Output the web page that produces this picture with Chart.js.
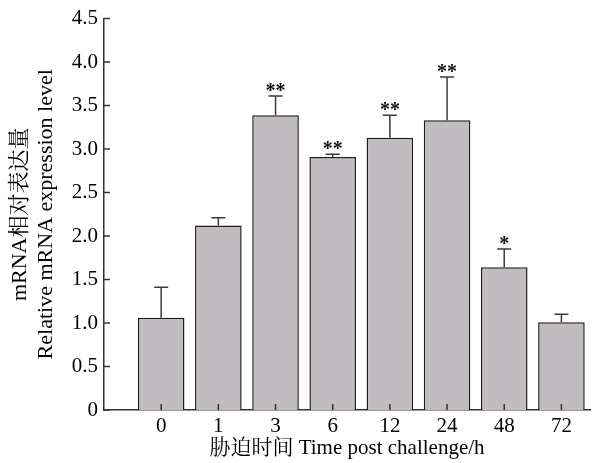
<!DOCTYPE html>
<html>
<head>
<meta charset="utf-8">
<script src="https://cdn.jsdelivr.net/npm/chart.js@4"></script>
<style>
  html, body { margin: 0; padding: 0; background: #fff; }
  #wrap { width: 593px; height: 463px; }
</style>
</head>
<body>
<div id="wrap"><canvas id="chart"></canvas></div>
<script>
const timePoints = ['0', '1', '3', '6', '12', '24', '48', '72'];
const expression = [1.06, 2.12, 3.39, 2.91, 3.13, 3.33, 1.64, 1.01];
const errorUpper = [0.35, 0.09, 0.22, 0.03, 0.26, 0.50, 0.21, 0.09];
const marks = ['', '', '**', '**', '**', '**', '*', ''];
const yTicks = [0, 0.5, 1.0, 1.5, 2.0, 2.5, 3.0, 3.5, 4.0, 4.5];

const FONT = '"Liberation Serif", "Times New Roman", "Noto Serif CJK SC", "Noto Sans CJK SC", serif';
const AXIS = '#333';

// error bars, significance stars and inward tick marks
const extras = {
  id: 'extras',
  afterDatasetsDraw(chart) {
    const ctx = chart.ctx;
    const x = chart.scales.x, y = chart.scales.y;
    ctx.save();
    ctx.strokeStyle = '#3a3a3a';
    ctx.lineWidth = 1.5;
    expression.forEach((v, i) => {
      const px = x.getPixelForValue(i);
      const top = y.getPixelForValue(v);
      const cap = y.getPixelForValue(v + errorUpper[i]);
      ctx.beginPath();
      ctx.moveTo(px, top);
      ctx.lineTo(px, cap);
      ctx.moveTo(px - 7, cap);
      ctx.lineTo(px + 7, cap);
      ctx.stroke();
      if (marks[i]) {
        ctx.fillStyle = '#111';
        ctx.font = 'bold 20px ' + FONT;
        ctx.textAlign = 'center';
        ctx.textBaseline = 'alphabetic';
        ctx.fillText(marks[i], px, cap + 1);
      }
    });
    ctx.strokeStyle = AXIS;
    ctx.lineWidth = 1.5;
    const left = chart.chartArea.left, bottom = chart.chartArea.bottom;
    ctx.beginPath();
    yTicks.forEach(t => {
      const py = y.getPixelForValue(t);
      ctx.moveTo(left, py);
      ctx.lineTo(left + 6, py);
    });
    timePoints.forEach((c, i) => {
      const px = x.getPixelForValue(i);
      ctx.moveTo(px, bottom);
      ctx.lineTo(px, bottom - 6);
    });
    ctx.stroke();
    ctx.restore();
  }
};

new Chart(document.getElementById('chart'), {
  type: 'bar',
  data: {
    datasets: [{
      data: expression.map((v, i) => ({ x: i, y: v })),
      backgroundColor: '#c1bcbf',
      borderColor: '#1e1e1e',
      borderWidth: 1.5,
      categoryPercentage: 1,
      barPercentage: 0.815
    }]
  },
  options: {
    responsive: true,
    maintainAspectRatio: false,
    animation: false,
    layout: { padding: { top: 15, right: 3, left: 0, bottom: 0 } },
    plugins: { legend: { display: false }, tooltip: { enabled: false } },
    scales: {
      x: {
        type: 'linear',
        offset: false,
        min: -1,
        max: 7.5,
        afterBuildTicks: (scale) => { scale.ticks = timePoints.map((c, i) => ({ value: i })); },
        afterFit: (scale) => { scale.height = 53; },
        grid: { display: false, drawTicks: false },
        border: { display: true, color: AXIS, width: 1.5 },
        ticks: {
          color: '#000',
          padding: 4,
          maxRotation: 0,
          font: { family: FONT, size: 21 },
          callback: (v) => timePoints[v]
        },
        title: {
          display: true,
          text: '胁迫时间 Time post challenge/h',
          color: '#000',
          font: { family: FONT, size: 21 },
          padding: { top: 0, bottom: 2 }
        }
      },
      y: {
        min: 0,
        max: 4.5,
        afterBuildTicks: (scale) => { scale.ticks = yTicks.map(v => ({ value: v })); },
        afterFit: (scale) => { scale.width = 104; },
        grid: { display: false, drawTicks: false },
        border: { display: true, color: AXIS, width: 1.5 },
        ticks: {
          color: '#000',
          padding: 6,
          font: { family: FONT, size: 21 },
          callback: (v) => v === 0 ? '0' : v.toFixed(1)
        },
        title: {
          display: true,
          text: ['mRNA相对表达量', 'Relative mRNA expression level'],
          color: '#000',
          font: { family: FONT, size: 22, lineHeight: 1.2 },
          padding: { top: 7, bottom: 0 }
        }
      }
    }
  },
  plugins: [extras]
});
</script>
</body>
</html>
